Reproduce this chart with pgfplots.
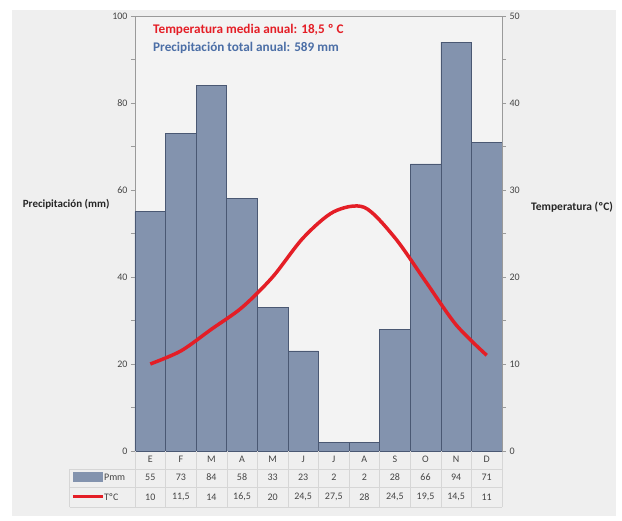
\documentclass[border=0pt]{standalone}
\usepackage{pgfplots}
\pgfplotsset{compat=1.18}
\usepackage{pgfplotstable}
\usepackage{fontspec}
\setmainfont{Carlito}
\definecolor{panel}{HTML}{EFEFEF}
\definecolor{plotbg}{HTML}{F3F3F3}
\definecolor{barfill}{HTML}{8393AE}
\definecolor{baredge}{HTML}{4A5873}
\definecolor{tred}{HTML}{E41E26}
\definecolor{tblue}{HTML}{4B6EA6}
\definecolor{txt}{HTML}{454545}
\definecolor{gridc}{HTML}{D6D6D6}
\definecolor{axc}{HTML}{9A9A9A}

\pgfplotstableread{
x m P T
0 E 55 10
1 F 73 11.5
2 M 84 14
3 A 58 16.5
4 M 33 20
5 J 23 24.5
6 J 2 27.5
7 A 2 28
8 S 28 24.5
9 O 66 19.5
10 N 94 14.5
11 D 71 11
}\climdata

\begin{document}
\begin{tikzpicture}[x=1pt,y=1pt]
\useasboundingbox (0,0) rectangle (622,521);
\fill[white] (0,0) rectangle (622,521);
\fill[panel] (12,5) rectangle (616,511);
\begin{axis}[
  at={(135pt,70pt)}, anchor=south west,
  scale only axis, width=367pt, height=435pt,
  xmin=-0.5, xmax=11.5, ymin=0, ymax=100,
  clip=false,
  axis background/.style={fill=plotbg},
  axis line style={axc},
  xtick=\empty,
  ytick={0,20,...,100}, minor ytick={10,30,...,90},
  ytick pos=left, tick align=outside,
  major tick length=4pt, minor tick length=4pt,
  tick style={axc},
  yticklabel style={font=\fontsize{10}{11}\selectfont, text=txt},
  /pgf/number format/assume math mode=true,
  ylabel={\textbf{Precipitación (mm)}},
  every axis y label/.style={at={(axis description cs:-0.06,0.568)}, anchor=east, font=\fontsize{11}{12}\selectfont, text=black!85},
]
\addplot[ybar, bar width=1, fill=barfill, draw=baredge, line width=0.6pt] table[x=x,y=P]{\climdata};
\pgfplotsinvokeforeach{-0.5,0.5,1.5,2.5,3.5,4.5,5.5,6.5,7.5,8.5,9.5,10.5,11.5}{
  \draw[gridc] (axis cs:#1,0) -- (axis cs:#1,-12.87);
}
\draw[gridc] (axis cs:-2.64,-4.14) -- (axis cs:11.5,-4.14);
\draw[gridc] (axis cs:-2.64,-8.28) -- (axis cs:11.5,-8.28);
\draw[gridc] (axis cs:-2.64,-12.87) -- (axis cs:11.5,-12.87);
\draw[gridc] (axis cs:-2.64,-4.14) -- (axis cs:-2.64,-12.87);
\fill[barfill] (axis cs:-2.53,-4.83) rectangle (axis cs:-1.55,-7.13);
\draw[tred, line width=3pt] (axis cs:-2.53,-10.57) -- (axis cs:-1.55,-10.57);
\node[anchor=west, inner sep=1pt, text=txt, font=\fontsize{10}{11}\selectfont] at (axis cs:-1.55,-5.98) {Pmm};
\node[anchor=west, inner sep=1pt, text=txt, font=\fontsize{10}{11}\selectfont] at (axis cs:-1.55,-10.57) {TºC};
\addplot[draw=none, nodes near coords, point meta=explicit symbolic,
  every node near coord/.append style={anchor=center, text=txt, font=\fontsize{10}{11}\selectfont}]
  table[x=x, y expr=-1.95, meta=m]{\climdata};
\addplot[draw=none, nodes near coords, point meta=explicit,
  every node near coord/.append style={anchor=center, text=txt, font=\fontsize{10}{11}\selectfont}]
  table[x=x, y expr=-6.05, meta=P]{\climdata};
\addplot[draw=none, nodes near coords={\pgfmathprintnumber[use comma]{\pgfplotspointmeta}}, point meta=explicit,
  every node near coord/.append style={anchor=center, text=txt, font=\fontsize{10}{11}\selectfont}]
  table[x=x, y expr=-10.57, meta=T]{\climdata};
\end{axis}
\begin{axis}[
  at={(135pt,70pt)}, anchor=south west,
  scale only axis, width=367pt, height=435pt,
  xmin=-0.5, xmax=11.5, ymin=0, ymax=50,
  clip=false,
  axis y line*=right, axis x line=none,
  axis line style={axc},
  ytick={0,10,...,50}, minor ytick={5,15,...,45},
  tick align=outside,
  major tick length=4pt, minor tick length=4pt,
  tick style={axc},
  yticklabel style={font=\fontsize{10}{11}\selectfont, text=txt},
  /pgf/number format/assume math mode=true,
  ylabel={\textbf{Temperatura (ºC)}},
  every axis y label/.style={at={(axis description cs:1.07,0.561)}, anchor=west, font=\fontsize{11.5}{12}\selectfont, text=black!85},
]
\addplot[tred, line width=3.5pt, smooth] table[x=x,y=T]{\climdata};
\node[anchor=west, text=tred, font=\bfseries\fontsize{13.2}{15}\selectfont] at (axis description cs:0.04,0.968) {Temperatura media anual: 18,5 º C};
\node[anchor=west, text=tblue, font=\bfseries\fontsize{13.2}{15}\selectfont] at (axis description cs:0.04,0.926) {Precipitación total anual: 589 mm};
\end{axis}
\end{tikzpicture}
\end{document}
